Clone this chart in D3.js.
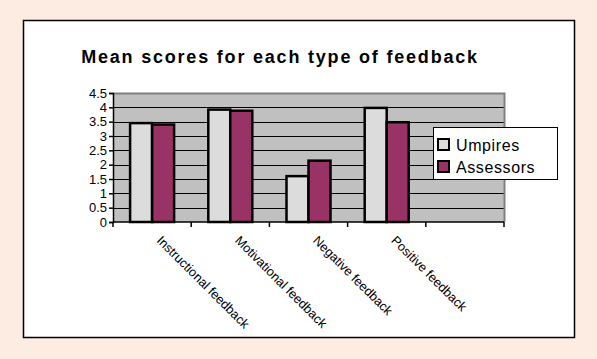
<!DOCTYPE html>
<html>
<head>
<meta charset="utf-8">
<script src="https://cdn.jsdelivr.net/npm/d3@7"></script>
<style>
  body { margin: 0; background: #fdece2; }
  svg { display: block; font-family: "Liberation Sans", Arial, sans-serif; }
</style>
</head>
<body>
<script>
// chart data
var categories = ["Instructional feedback", "Motivational feedback", "Negative feedback", "Positive feedback", ""];
var umpires = [3.45, 3.92, 1.6, 3.98];
var assessors = [3.4, 3.88, 2.14, 3.48];
var seriesNames = ["Umpires", "Assessors"];
var yTicks = [0, 0.5, 1, 1.5, 2, 2.5, 3, 3.5, 4, 4.5];

var colors = ["#dcdcdc", "#993366"];

var W = 597, H = 359;
var plot = {left: 113, right: 504, top: 93, bottom: 222};

var svg = d3.select("body")
  .append("svg")
    .attr("width", W)
    .attr("height", H);

// peach background + white chart box
svg.append("rect")
  .attr("width", W).attr("height", H)
  .attr("fill", "#fdece2");
svg.append("rect")
  .attr("x", 23.5).attr("y", 20.5)
  .attr("width", 551).attr("height", 317)
  .attr("fill", "#fff")
  .attr("stroke", "#000")
  .attr("stroke-width", 1.5);

// title
svg.append("text")
  .attr("x", 280).attr("y", 63)
  .attr("text-anchor", "middle")
  .attr("font-size", 18)
  .attr("font-weight", "bold")
  .attr("letter-spacing", 1.8)
  .text("Mean scores for each type of feedback");

// scales
var x = d3.scaleBand()
  .domain(d3.range(categories.length))
  .range([plot.left, plot.right]);

var y = d3.scaleLinear()
  .domain([0, 4.5])
  .range([plot.bottom, plot.top]);

// plot area
svg.append("rect")
  .attr("x", plot.left).attr("y", plot.top)
  .attr("width", plot.right - plot.left)
  .attr("height", plot.bottom - plot.top)
  .attr("fill", "#c0c0c0");

// gridlines
svg.append("g")
  .selectAll("line")
  .data(yTicks.slice(1))
  .enter().append("line")
    .attr("x1", plot.left).attr("x2", plot.right)
    .attr("y1", function(d) { return Math.round(y(d)) + 0.5; })
    .attr("y2", function(d) { return Math.round(y(d)) + 0.5; })
    .attr("stroke", "#000")
    .attr("stroke-width", 1);

// gray border top and right
svg.append("path")
  .attr("d", "M" + plot.left + "," + (plot.top + 0.5) + "H" + (plot.right + 0.5) + "V" + plot.bottom)
  .attr("fill", "none")
  .attr("stroke", "#808080")
  .attr("stroke-width", 2);

// bars
var barW = 22;
var series = [umpires, assessors];
series.forEach(function(vals, s) {
  svg.append("g")
    .selectAll("rect")
    .data(vals)
    .enter().append("rect")
      .attr("x", function(d, i) { return x(i) + x.bandwidth() / 2 - barW + s * barW; })
      .attr("y", function(d) { return y(d); })
      .attr("width", barW)
      .attr("height", function(d) { return y(0) - y(d); })
      .attr("fill", colors[s])
      .attr("stroke", "#000")
      .attr("stroke-width", 2.5);
});

// y axis
var yAxis = svg.append("g")
  .attr("transform", "translate(" + plot.left + ",0)")
  .call(d3.axisLeft(y).tickValues(yTicks).tickFormat(d3.format("")).tickSize(4).tickPadding(2));
yAxis.selectAll("text").attr("font-size", 13).attr("fill", "#000").attr("font-family", "Liberation Sans, Arial, sans-serif");
yAxis.selectAll("line, path").attr("stroke", "#000").attr("stroke-width", 1.5);

// x axis
var xAxis = svg.append("g")
  .attr("transform", "translate(0," + plot.bottom + ")");
xAxis.append("line")
  .attr("x1", plot.left).attr("x2", plot.right)
  .attr("stroke", "#000").attr("stroke-width", 1.5);
xAxis.selectAll("line.tick")
  .data(d3.range(categories.length + 1))
  .enter().append("line")
    .attr("class", "tick")
    .attr("x1", function(d) { return d < categories.length ? x(d) : plot.right; })
    .attr("x2", function(d) { return d < categories.length ? x(d) : plot.right; })
    .attr("y1", 0).attr("y2", 5)
    .attr("stroke", "#000").attr("stroke-width", 1.5);

// rotated category labels
svg.append("g")
  .selectAll("text")
  .data(categories)
  .enter().append("text")
    .attr("transform", function(d, i) {
      return "translate(" + (x(i) + x.bandwidth() / 2 + 7) + "," + (plot.bottom + 16) + ") rotate(45)";
    })
    .attr("font-size", 12.8)
    .attr("dy", "0.35em")
    .text(function(d) { return d; });

// legend
var lg = svg.append("g").attr("transform", "translate(433,127)");
lg.append("rect")
  .attr("x", 0.5).attr("y", 0.5)
  .attr("width", 124).attr("height", 52)
  .attr("fill", "#fff")
  .attr("stroke", "#000").attr("stroke-width", 1);
seriesNames.forEach(function(name, i) {
  lg.append("rect")
    .attr("x", 5).attr("y", 12 + i * 22)
    .attr("width", 11).attr("height", 11)
    .attr("fill", colors[i])
    .attr("stroke", "#000").attr("stroke-width", 2);
  lg.append("text")
    .attr("x", 23).attr("y", 24 + i * 22)
    .attr("font-size", 16)
    .attr("letter-spacing", 0.6)
    .text(name);
});
</script>
</body>
</html>
